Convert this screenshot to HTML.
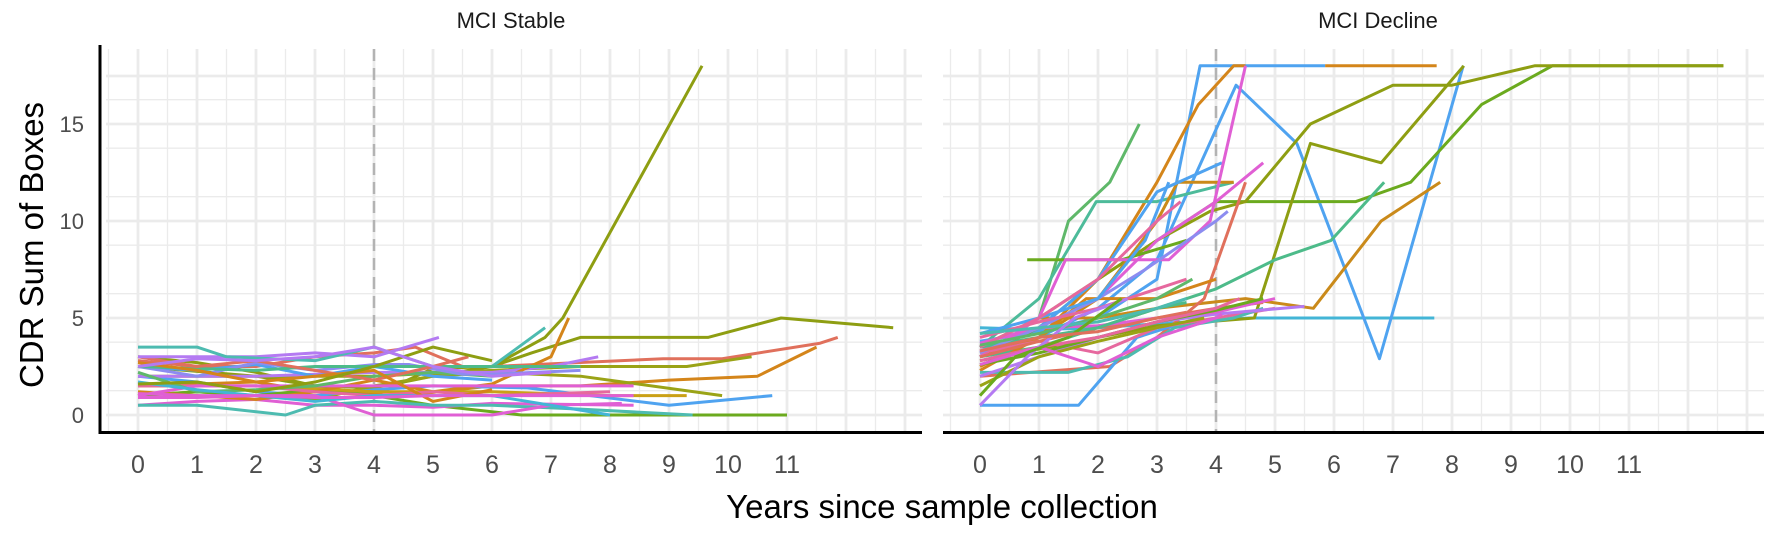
<!DOCTYPE html>
<html><head><meta charset="utf-8"><style>
html,body{margin:0;padding:0;background:#fff;}
svg{display:block;font-family:"Liberation Sans",Arial,sans-serif;}
.d polyline{fill:none;stroke-width:3;vector-effect:non-scaling-stroke;stroke-linejoin:round;}
</style></head><body>
<svg width="1772" height="534" viewBox="0 0 1772 534" xmlns="http://www.w3.org/2000/svg">
<g stroke="#ebebeb">
<g stroke-width="1.3">
<line x1="106" x2="922" y1="390.7" y2="390.7"/><line x1="106" x2="922" y1="342.2" y2="342.2"/><line x1="106" x2="922" y1="293.7" y2="293.7"/><line x1="106" x2="922" y1="245.2" y2="245.2"/><line x1="106" x2="922" y1="196.7" y2="196.7"/><line x1="106" x2="922" y1="148.2" y2="148.2"/><line x1="106" x2="922" y1="99.7" y2="99.7"/>
<line x1="943" x2="1764" y1="390.7" y2="390.7"/><line x1="943" x2="1764" y1="342.2" y2="342.2"/><line x1="943" x2="1764" y1="293.7" y2="293.7"/><line x1="943" x2="1764" y1="245.2" y2="245.2"/><line x1="943" x2="1764" y1="196.7" y2="196.7"/><line x1="943" x2="1764" y1="148.2" y2="148.2"/><line x1="943" x2="1764" y1="99.7" y2="99.7"/>
</g>
<g stroke-width="2.8">
<line x1="106" x2="922" y1="415" y2="415"/><line x1="106" x2="922" y1="318" y2="318"/><line x1="106" x2="922" y1="221" y2="221"/><line x1="106" x2="922" y1="124" y2="124"/><line x1="106" x2="922" y1="76" y2="76"/>
<line x1="943" x2="1764" y1="415" y2="415"/><line x1="943" x2="1764" y1="318" y2="318"/><line x1="943" x2="1764" y1="221" y2="221"/><line x1="943" x2="1764" y1="124" y2="124"/><line x1="943" x2="1764" y1="76" y2="76"/>
</g>
<g id="vl">
<line x1="108.5" x2="108.5" y1="49" y2="432" stroke-width="1.3"/>
<line x1="138" x2="138" y1="49" y2="432" stroke-width="2.8"/><line x1="167.5" x2="167.5" y1="49" y2="432" stroke-width="1.3"/>
<line x1="197" x2="197" y1="49" y2="432" stroke-width="2.8"/><line x1="226.5" x2="226.5" y1="49" y2="432" stroke-width="1.3"/>
<line x1="256" x2="256" y1="49" y2="432" stroke-width="2.8"/><line x1="285.5" x2="285.5" y1="49" y2="432" stroke-width="1.3"/>
<line x1="315" x2="315" y1="49" y2="432" stroke-width="2.8"/><line x1="344.5" x2="344.5" y1="49" y2="432" stroke-width="1.3"/>
<line x1="374" x2="374" y1="49" y2="432" stroke-width="2.8"/><line x1="403.5" x2="403.5" y1="49" y2="432" stroke-width="1.3"/>
<line x1="433" x2="433" y1="49" y2="432" stroke-width="2.8"/><line x1="462.5" x2="462.5" y1="49" y2="432" stroke-width="1.3"/>
<line x1="492" x2="492" y1="49" y2="432" stroke-width="2.8"/><line x1="521.5" x2="521.5" y1="49" y2="432" stroke-width="1.3"/>
<line x1="551" x2="551" y1="49" y2="432" stroke-width="2.8"/><line x1="580.5" x2="580.5" y1="49" y2="432" stroke-width="1.3"/>
<line x1="610" x2="610" y1="49" y2="432" stroke-width="2.8"/><line x1="639.5" x2="639.5" y1="49" y2="432" stroke-width="1.3"/>
<line x1="669" x2="669" y1="49" y2="432" stroke-width="2.8"/><line x1="698.5" x2="698.5" y1="49" y2="432" stroke-width="1.3"/>
<line x1="728" x2="728" y1="49" y2="432" stroke-width="2.8"/><line x1="757.5" x2="757.5" y1="49" y2="432" stroke-width="1.3"/>
<line x1="787" x2="787" y1="49" y2="432" stroke-width="2.8"/><line x1="816.5" x2="816.5" y1="49" y2="432" stroke-width="1.3"/>
<line x1="846" x2="846" y1="49" y2="432" stroke-width="2.8"/><line x1="875.5" x2="875.5" y1="49" y2="432" stroke-width="1.3"/>
<line x1="905" x2="905" y1="49" y2="432" stroke-width="2.8"/>
</g>
<use href="#vl" transform="translate(842,0)"/>
</g>
<line x1="374" x2="374" y1="49" y2="432" stroke="#b3b3b3" stroke-width="2.5" stroke-dasharray="12,7"/>
<line x1="1216" x2="1216" y1="49" y2="432" stroke="#b3b3b3" stroke-width="2.5" stroke-dasharray="12,7"/>

<g class="d" transform="translate(138,415) scale(59,-19.4)">
<polyline stroke="#8E9E12" points="0,3 1,2.7 2,2.2 3,1.5 4,1.4 5,2 6,2.5 6.9,4 7.2,5 9.56,18"/>
<polyline stroke="#8E9E12" points="0,2.5 2,2 4,1 5,2.4 6,2.5 6.67,3.2 7.5,4 9.66,4 10.9,5 12.8,4.5"/>
<polyline stroke="#E0705C" points="0,3 1,2.5 2,2.5 3,3 4,3.2 4.7,3.5 5.5,2.5 6,2.5 8.9,2.9 9.9,2.9 11.56,3.7 11.86,4"/>
<polyline stroke="#D4851A" points="0,1.5 2,1.7 3,1.2 4.5,1 6,1.5 7.5,1.5 9,1.8 10.5,2 11.5,3.5"/>
<polyline stroke="#9AA316" points="0,2 2,2 4,2 6,2.3 7.5,2.5 9.3,2.5 10.4,3"/>
<polyline stroke="#9AA316" points="0,1 1,1.2 3,0.8 4,1.5 5,2 6,2.2 7.5,2 9.9,1"/>
<polyline stroke="#4FA3F0" points="0,2 1,1.7 2,1.2 3,1 4,1.3 5,1.5 6.6,1.4 9,0.5 10.75,1"/>
<polyline stroke="#6BAA1E" points="0,1 1,1.2 2,1 3,1.3 4,1 5,0.5 6.5,0 11,0"/>
<polyline stroke="#CAA016" points="0,1.5 2,1.5 4,1.2 6,1.2 8,1 9.3,1"/>
<polyline stroke="#E05FD4" points="0,0.5 1,0.7 2,0.8 3,0.5 4,0.5 5,0.4 6,0.6 8.4,0.5"/>
<polyline stroke="#4DBBB0" points="0,0.5 1,0.5 2.5,0 3,0.5 4,0.7 5,0.5 6,0.5 7.5,0.3 9.4,0"/>
<polyline stroke="#B47AF2" points="0,2 2,2 4,2.2 6,2.2 7,2.5 7.8,3"/>
<polyline stroke="#B47AF2" points="0,3 1,3 2,3 3,3.2 4,3 5.1,4"/>
<polyline stroke="#4DBBB0" points="0,3.5 1,3.5 1.5,3 3,2.8 4,3.5 5,2.5 6,2.5 6.9,4.5"/>
<polyline stroke="#D4851A" points="0,1.2 1,1 2,0.8 3,1.2 4,1.8 5,1.2 6,1.6 7,3 7.3,5"/>
<polyline stroke="#E6689E" points="0,1.5 1,1.5 2,1.5 3,1.2 4,1 5,1.2 6,1 8,1.2"/>
<polyline stroke="#E05FD4" points="0,1 1,1.5 2,1.5 3,1.5 4,1.5 5,1.5 6,1.5 7.5,1.5 8.4,1.5"/>
<polyline stroke="#E05FD4" points="0,0.9 1,0.9 2,1 3,1 4,0 5,0 6,0 7,0.5 8.2,0.6"/>
<polyline stroke="#4FA3F0" points="0,2.5 1,2.3 2,2.6 3,2 4,2.5 5,2 6,1.8"/>
<polyline stroke="#5FB86A" points="0,2.2 1,1.2 2,1.3 3,1.5 4,2 5,2.2 6,2"/>
<polyline stroke="#8C8CF0" points="0,2.5 1,2 2,2.7 3,2.3 4,2.6 4.6,2.6 5.5,2.1 6,2.1 7.5,2.3"/>
<polyline stroke="#43B5D6" points="0,1.7 1,1.3 2,1 3,0.7 4,1 5,1 6,1 8,0"/>
<polyline stroke="#4DBB8A" points="0,2.5 1,2.4 2,2.3 3,2.5 4,2.5 5,2.5 6,2.5 7.5,2.5"/>
<polyline stroke="#E0705C" points="0,2.8 1,2.5 2,2.8 3,2.3 4,1.8 5,2.5 5.6,3"/>
<polyline stroke="#D4851A" points="0,2.7 1,2.3 2,1.7 3,2 4,2.3 5,0.7 6,1.3"/>
<polyline stroke="#8E9E12" points="0,1.6 1,1.7 2,1.2 3,1.7 4,2.5 5,3.5 6,2.8"/>
<polyline stroke="#B47AF2" points="0,2.5 1,2.9 2,2.8 3,3 4,3.5 5,2.5 6,2 7,2.2"/>
<polyline stroke="#E05FD4" points="0,1.1 1,1 2,1 3,0.9 4,0.9 5,1 6,1 7.5,1 8.4,1"/>
</g>

<g class="d" transform="translate(980,415) scale(59,-19.4)">
<polyline stroke="#43B5D6" points="0,4.5 1,4.4 2,4.5 3,4.7 4.56,5 7.7,5"/>
<polyline stroke="#4FA3F0" points="0,3.8 1,4.3 2,5 3,7 3.73,18 5.85,18"/>
<polyline stroke="#D4851A" points="5.85,18 7.74,18"/>
<polyline stroke="#D4851A" points="0,2.5 1,4 2,7 3,12 3.7,16 4.3,18 4.5,18"/>
<polyline stroke="#4FA3F0" points="0,3.2 1,4 2,5.5 3,8 4.34,17 5.37,14 6.77,2.9 8.19,18"/>
<polyline stroke="#6BAA1E" points="0,3 1,4.5 2,7 3,9 4,11 6.37,11 7.3,12 8.5,16 9.7,18 12.6,18"/>
<polyline stroke="#8E9E12" points="0,3.5 1,5 2,7 3,9 3.9,10.5 4.5,11 5.6,15 7,17 8,17 9.4,18 12.6,18"/>
<polyline stroke="#8E9E12" points="0,2.8 2,4 3,4.6 4.65,5 5.6,14 6.8,13 8.2,18"/>
<polyline stroke="#CA8A1A" points="0,3.5 1,5 2,5 3,5.5 4.5,6 5.65,5.5 6.8,10 7.8,12"/>
<polyline stroke="#4DBB8A" points="0,3 1,3.5 2,4.5 3,5.5 4,6.5 5,8 5.95,9 6.85,12"/>
<polyline stroke="#5FB86A" points="0,3 1,5 1.5,10 2.2,12 2.7,15"/>
<polyline stroke="#4DBB9A" points="0,3.5 1,6 1.97,11 3,11 4.3,12"/>
<polyline stroke="#CA8A1A" points="0,3 1,4 2,6 3,10 3.35,12 4.3,12"/>
<polyline stroke="#4FA3F0" points="0,3.7 1,4.5 2,7 3,11.5 4.1,13"/>
<polyline stroke="#E05FD4" points="0,3.3 1,4.5 2,6 3,9 4,11 4.8,13"/>
<polyline stroke="#E0705C" points="0,2 2.2,2.5 3,4 3.8,6 4.5,12"/>
<polyline stroke="#6BAA1E" points="0.8,8 2.4,8 3.5,9"/>
<polyline stroke="#E05FD4" points="0,3 1,5 1.45,8 3.2,8 3.9,10 4.5,18"/>
<polyline stroke="#4FA3F0" points="0,0.5 1.67,0.5 2.66,4 3.7,5"/>
<polyline stroke="#D4851A" points="0,2.3 1,4 1.8,6 3,6 4,7"/>
<polyline stroke="#E6689E" points="0,3.2 1,3.8 2,3.2 3,4.5 4,5 5,5.5"/>
<polyline stroke="#4DBBB0" points="0,2.2 1.5,2.2 2.5,3 3.3,4.5 4.3,5 4.8,5.5"/>
<polyline stroke="#E0705C" points="0,3 1,3.8 2,4.5 3,5 4,5.5 4.8,5.8"/>
<polyline stroke="#B47AF2" points="0,2 1,3 2,4 3,4.8 4,5.2 5.5,5.6"/>
<polyline stroke="#E05FD4" points="0,3.7 1,4.5 2,4.6 3,5 4,5.3 5,6"/>
<polyline stroke="#6BAA1E" points="0,2.6 1,3.2 2,4 3,4.8 4,5.4 4.8,6"/>
<polyline stroke="#4DBB8A" points="0,3.5 1,4 2,4.5 3,5.5 3.5,5.8"/>
<polyline stroke="#E6689E" points="0,2.8 1,3.5 2,4 3,4.8 4,5.5 4.4,6"/>
<polyline stroke="#9AA316" points="0,1.5 1,3 2,3.8 3,4.5 3.8,5"/>
<polyline stroke="#8C8CF0" points="0,3.2 1,4.5 2,6 2.8,7.5 4,10 4.2,10.5"/>
<polyline stroke="#E6689E" points="0,4 1,4.8 2,5.5 3,6.5 3.5,7"/>
<polyline stroke="#E05FD4" points="0,2.6 1,3.5 2,2.5 3,4 4,5 4.1,5.2"/>
<polyline stroke="#4FA3F0" points="0,4.2 1,5 2,6 2.8,9 3.2,12"/>
<polyline stroke="#E6689E" points="0,3.5 1,5 2,7 3,10 3.4,11"/>
<polyline stroke="#5FB86A" points="0,3.6 1,4.2 2,5 3,6 3.6,7"/>
<polyline stroke="#4DBBB0" points="0,4.2 1,4.5 2,4.8 3,5.5 3.5,6"/>
<polyline stroke="#B47AF2" points="0,0.5 0.8,3 1.6,5 2.5,6"/>
<polyline stroke="#6BAA1E" points="0,1 0.6,3 1.5,4 2.4,6"/>
<polyline stroke="#E0705C" points="0,3.3 1,4 2,4.3 3,5 3.5,5.3"/>
</g>

<line x1="100" x2="100" y1="45" y2="434" stroke="#000" stroke-width="3"/>
<line x1="98.5" x2="922" y1="432.5" y2="432.5" stroke="#000" stroke-width="3"/>
<line x1="943" x2="1764" y1="432.5" y2="432.5" stroke="#000" stroke-width="3"/>

<g font-size="22" fill="#4d4d4d" text-anchor="end">
<text x="84" y="423">0</text><text x="84" y="326">5</text><text x="84" y="229">10</text><text x="84" y="132">15</text>
</g>
<g font-size="25" fill="#4d4d4d" text-anchor="middle">
<text x="138" y="473">0</text><text x="197" y="473">1</text><text x="256" y="473">2</text><text x="315" y="473">3</text><text x="374" y="473">4</text><text x="433" y="473">5</text><text x="492" y="473">6</text><text x="551" y="473">7</text><text x="610" y="473">8</text><text x="669" y="473">9</text><text x="728" y="473">10</text><text x="787" y="473">11</text>
<text x="980" y="473">0</text><text x="1039" y="473">1</text><text x="1098" y="473">2</text><text x="1157" y="473">3</text><text x="1216" y="473">4</text><text x="1275" y="473">5</text><text x="1334" y="473">6</text><text x="1393" y="473">7</text><text x="1452" y="473">8</text><text x="1511" y="473">9</text><text x="1570" y="473">10</text><text x="1629" y="473">11</text>
</g>
<text x="511" y="28" font-size="22" fill="#1a1a1a" text-anchor="middle">MCI Stable</text>
<text x="1378" y="28" font-size="22" fill="#1a1a1a" text-anchor="middle">MCI Decline</text>
<text x="942" y="518" font-size="33" fill="#000" text-anchor="middle">Years since sample collection</text>
<text transform="translate(43,245) rotate(-90)" font-size="33" fill="#000" text-anchor="middle">CDR Sum of Boxes</text>
</svg>
</body></html>
